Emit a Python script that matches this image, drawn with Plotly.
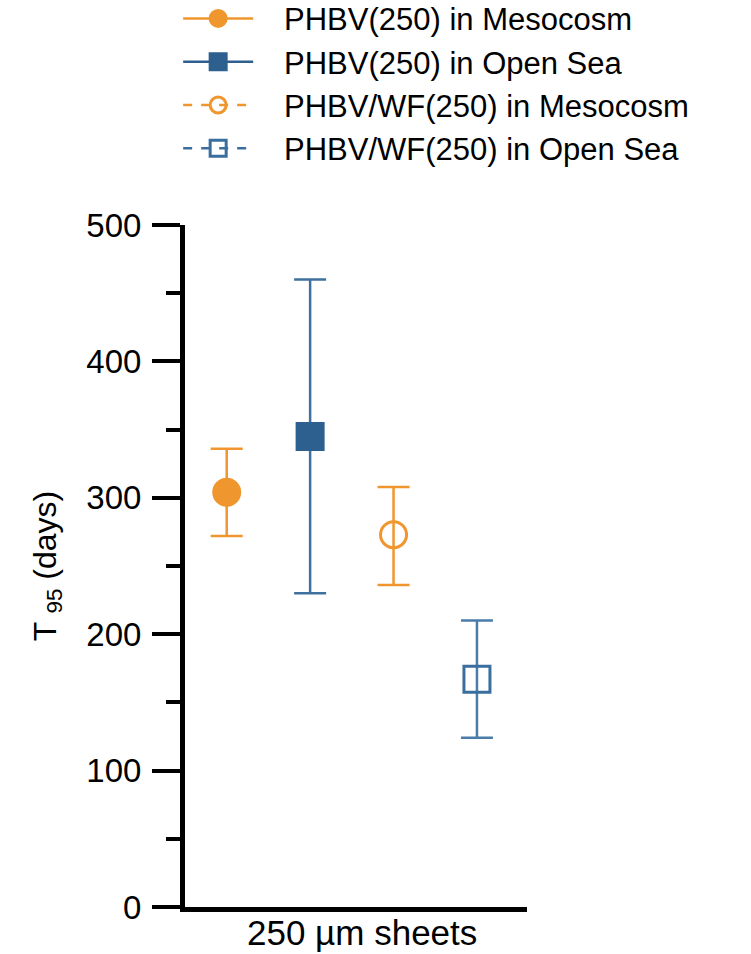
import plotly.graph_objects as go

names = ["PHBV(250) in Mesocosm", "PHBV(250) in Open Sea",
         "PHBV/WF(250) in Mesocosm", "PHBV/WF(250) in Open Sea"]
xpos = [0, 1, 2, 3]
t95 = [304, 345, 273, 167]
err_plus = [32, 115, 35, 43]
err_minus = [32, 115, 37, 43]
symbols = ["circle", "square", "circle-open", "square-open"]
colors = ["#F0962E", "#2D5F8F", "#F0962E", "#3A6E9E"]
err_colors = ["#F0962E", "#3E719E", "#F0962E", "#4A7DAA"]
dashes = ["solid", "solid", "dash", "dash"]

NB = "\u00a0\u00a0\u00a0"

fig = go.Figure()
for i in range(4):
    fig.add_trace(go.Scatter(
        x=[xpos[i]], y=[t95[i]], name=NB + names[i],
        mode="lines+markers",
        line=dict(color=colors[i], width=2.5, dash=dashes[i]),
        marker=dict(symbol=symbols[i], size=26, color=colors[i],
                    line=dict(color=colors[i], width=3)),
        error_y=dict(type="data", symmetric=False, array=[err_plus[i]],
                     arrayminus=[err_minus[i]], color=err_colors[i],
                     thickness=2.5, width=16),
    ))

fig.update_layout(
    width=751, height=954,
    margin=dict(l=185, r=224, t=225, b=47, autoexpand=False),
    plot_bgcolor="white", paper_bgcolor="white",
    font=dict(family="Liberation Sans, Arial, sans-serif", color="black"),
    showlegend=True,
    legend=dict(x=-0.02, y=1.342, xanchor="left", yanchor="top",
                font=dict(size=31, color="black"), itemwidth=70,
                tracegroupgap=0, bgcolor="rgba(0,0,0,0)"),
    xaxis=dict(range=[-0.5, 3.6], showticklabels=False, ticks="",
               showgrid=False, zeroline=False, showline=True,
               linecolor="black", linewidth=5),
    yaxis=dict(range=[0, 500], tickvals=[0, 100, 200, 300, 400, 500],
               ticks="outside", ticklen=28, tickwidth=4, tickcolor="black",
               minor=dict(tickvals=[50, 150, 250, 350, 450], ticks="outside",
                          ticklen=14, tickwidth=4, tickcolor="black"),
               showgrid=False, zeroline=False, showline=True,
               linecolor="black", linewidth=5,
               tickfont=dict(size=33, color="black"),
               ticklabelstandoff=4,
               title=dict(text="T <sub>95</sub> (days)",
                          font=dict(size=32, color="black"), standoff=22)),
)
fig.add_annotation(text="250 µm sheets", x=0.5, y=0, xref="paper",
                   yref="paper", yanchor="top", showarrow=False, yshift=-4,
                   xshift=6, font=dict(size=35, color="black"))

fig.write_html("out.html")
